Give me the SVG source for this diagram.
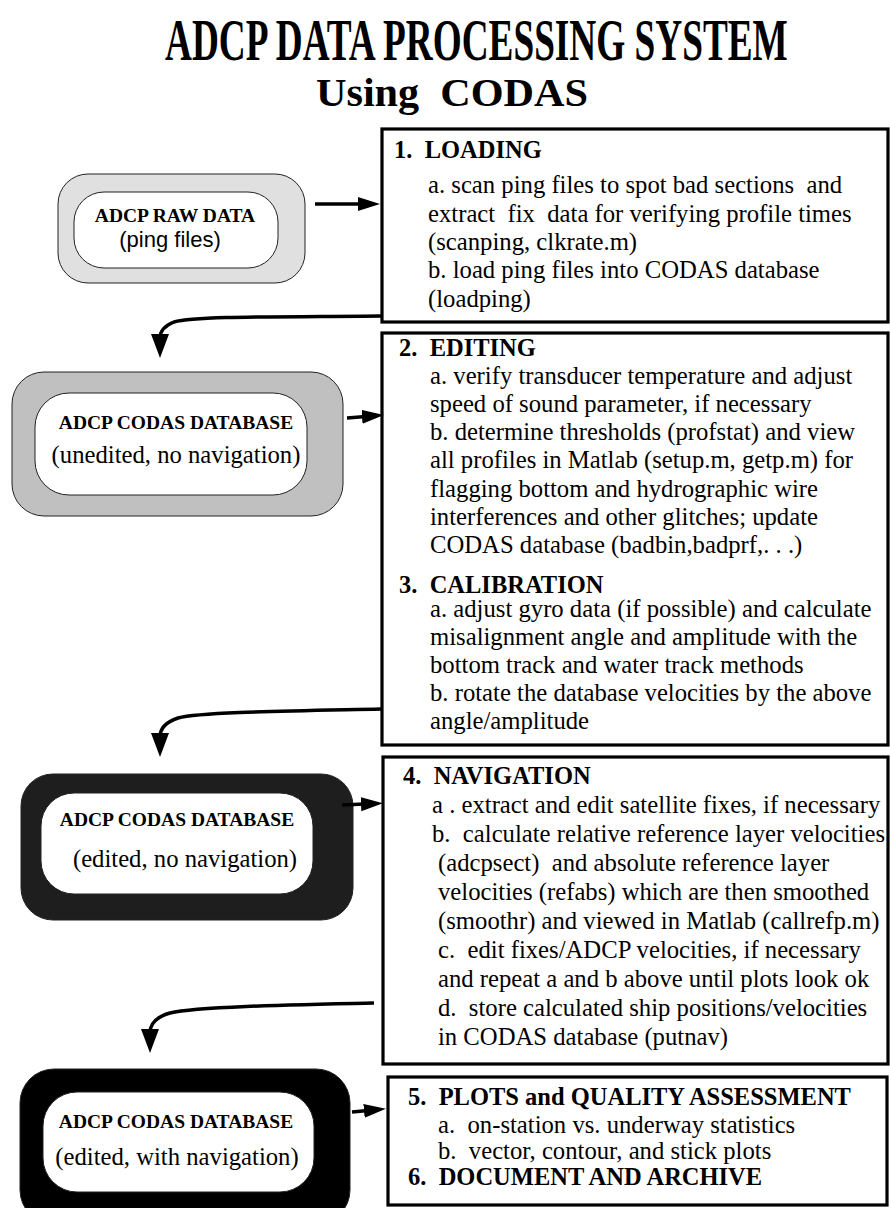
<svg xmlns="http://www.w3.org/2000/svg" width="890" height="1208" viewBox="0 0 890 1208">
<defs>
<style>
text { font-family: "Liberation Serif", "Times New Roman", serif; fill: #000; white-space: pre; }
.title { font-weight: bold; }
.hd { font-size: 24.5px; font-weight: bold; }
.bd { font-size: 24.7px; }
.nb { font-size: 19.5px; font-weight: bold; text-anchor: middle; }
.ns { font-size: 24.7px; text-anchor: middle; }
.sans { font-family: "Liberation Sans", Arial, sans-serif; font-size: 22px; text-anchor: middle; }
.box { fill: #fff; stroke: #000; stroke-width: 3.2; }
.inner { fill: #fff; stroke: #222; stroke-width: 1; }
.outer { stroke: #222; stroke-width: 1; }
.conn { fill: none; stroke: #000; stroke-width: 3.5; }
</style>
<marker id="arrH" markerUnits="userSpaceOnUse" markerWidth="24" markerHeight="16" refX="4" refY="7" orient="auto" viewBox="0 0 24 16">
<path d="M0,0 L22,7 L0,14 z" fill="#000"/>
</marker>
<marker id="arrV" markerUnits="userSpaceOnUse" markerWidth="26" markerHeight="20" refX="4" refY="9" orient="auto" viewBox="0 0 26 20">
<path d="M0,0 L24,9 L0,18 z" fill="#000"/>
</marker>
</defs>
<rect width="890" height="1208" fill="#fff"/>

<g id="title">
<text class="title" transform="translate(165,60) scale(0.621,1)" x="0" y="0" font-size="60">ADCP DATA PROCESSING SYSTEM</text>
<text class="title" x="316" y="106" font-size="41" textLength="272" lengthAdjust="spacingAndGlyphs">Using  CODAS</text>
</g>

<g id="node-raw">
<rect class="outer" x="58" y="174" width="247" height="109" rx="30" ry="30" fill="#e0e0e0"/>
<rect class="inner" x="74" y="192" width="204" height="76" rx="30" ry="30"/>
<text class="nb" x="175" y="222">ADCP RAW DATA</text>
<text class="sans" x="170" y="247">(ping files)</text>
</g>

<g id="node-unedited">
<rect class="outer" x="12" y="372" width="331" height="144" rx="32" ry="32" fill="#c0c0c0"/>
<rect class="inner" x="35" y="393" width="272" height="102" rx="34" ry="34"/>
<text class="nb" x="176" y="429">ADCP CODAS DATABASE</text>
<text class="ns" x="176" y="463">(unedited, no navigation)</text>
</g>

<g id="node-edited">
<rect class="outer" x="21" y="774" width="332" height="146" rx="32" ry="32" fill="#1e1e1e"/>
<rect class="inner" x="41" y="793" width="272" height="101" rx="33" ry="33"/>
<text class="nb" x="177" y="826">ADCP CODAS DATABASE</text>
<text class="ns" x="185" y="867">(edited, no navigation)</text>
</g>

<g id="node-navigated">
<rect class="outer" x="20" y="1069" width="330" height="155" rx="34" ry="34" fill="#000"/>
<rect class="inner" x="43" y="1092" width="271" height="100" rx="34" ry="34"/>
<text class="nb" x="176" y="1128">ADCP CODAS DATABASE</text>
<text class="ns" x="177" y="1165">(edited, with navigation)</text>
</g>

<g id="box-loading">
<rect class="box" x="382" y="129" width="506" height="193"/>
<text class="hd" x="394" y="158">1.  LOADING</text>
<text class="bd" x="428" y="193">a. scan ping files to spot bad sections  and</text>
<text class="bd" x="428" y="222">extract  fix  data for verifying profile times</text>
<text class="bd" x="428" y="250">(scanping, clkrate.m)</text>
<text class="bd" x="428" y="278">b. load ping files into CODAS database</text>
<text class="bd" x="428" y="307">(loadping)</text>
</g>

<g id="box-editing">
<rect class="box" x="382" y="333" width="506" height="412"/>
<text class="hd" x="399" y="356">2.  EDITING</text>
<text class="bd" x="430" y="384">a. verify transducer temperature and adjust</text>
<text class="bd" x="430" y="412">speed of sound parameter, if necessary</text>
<text class="bd" x="430" y="440">b. determine thresholds (profstat) and view</text>
<text class="bd" x="430" y="468">all profiles in Matlab (setup.m, getp.m) for</text>
<text class="bd" x="430" y="497">flagging bottom and hydrographic wire</text>
<text class="bd" x="430" y="525">interferences and other glitches; update</text>
<text class="bd" x="430" y="553">CODAS database (badbin,badprf,. . .)</text>
<text class="hd" x="399" y="593">3.  CALIBRATION</text>
<text class="bd" x="430" y="617">a. adjust gyro data (if possible) and calculate</text>
<text class="bd" x="430" y="645">misalignment angle and amplitude with the</text>
<text class="bd" x="430" y="673">bottom track and water track methods</text>
<text class="bd" x="430" y="701">b. rotate the database velocities by the above</text>
<text class="bd" x="430" y="729">angle/amplitude</text>
</g>

<g id="box-navigation">
<rect class="box" x="383" y="757" width="505" height="307"/>
<text class="hd" x="403" y="784">4.  NAVIGATION</text>
<text class="bd" x="432" y="813">a . extract and edit satellite fixes, if necessary</text>
<text class="bd" x="432" y="842">b.  calculate relative reference layer velocities</text>
<text class="bd" x="438" y="871">(adcpsect)  and absolute reference layer</text>
<text class="bd" x="438" y="900">velocities (refabs) which are then smoothed</text>
<text class="bd" x="438" y="929">(smoothr) and viewed in Matlab (callrefp.m)</text>
<text class="bd" x="438" y="958">c.  edit fixes/ADCP velocities, if necessary</text>
<text class="bd" x="438" y="987">and repeat a and b above until plots look ok</text>
<text class="bd" x="438" y="1016">d.  store calculated ship positions/velocities</text>
<text class="bd" x="438" y="1045">in CODAS database (putnav)</text>
</g>

<g id="box-plots">
<rect class="box" x="388" y="1077" width="499" height="128"/>
<text class="hd" x="408" y="1105">5.  PLOTS and QUALITY ASSESSMENT</text>
<text class="bd" x="438" y="1133">a.  on-station vs. underway statistics</text>
<text class="bd" x="438" y="1159">b.  vector, contour, and stick plots</text>
<text class="hd" x="408" y="1185">6.  DOCUMENT AND ARCHIVE</text>
</g>

<g id="connectors">
<path class="conn" d="M315,204 L362,204" marker-end="url(#arrH)"/>
<path class="conn" d="M347,418 L366,416.5" marker-end="url(#arrH)"/>
<path class="conn" d="M342,805 L365,804" marker-end="url(#arrH)"/>
<path class="conn" d="M352,1112 L368,1110.5" marker-end="url(#arrH)"/>
<path class="conn" d="M381,316 C280,317 195,316 174,322 C164,326 160,331 160,338" marker-end="url(#arrV)"/>
<path class="conn" d="M381,709 C290,711 200,712 178,718 C166,722 160,728 160,737" marker-end="url(#arrV)"/>
<path class="conn" d="M374,1003 C280,1005 195,1007 170,1013 C156,1017 150,1024 150,1033" marker-end="url(#arrV)"/>
</g>
</svg>
